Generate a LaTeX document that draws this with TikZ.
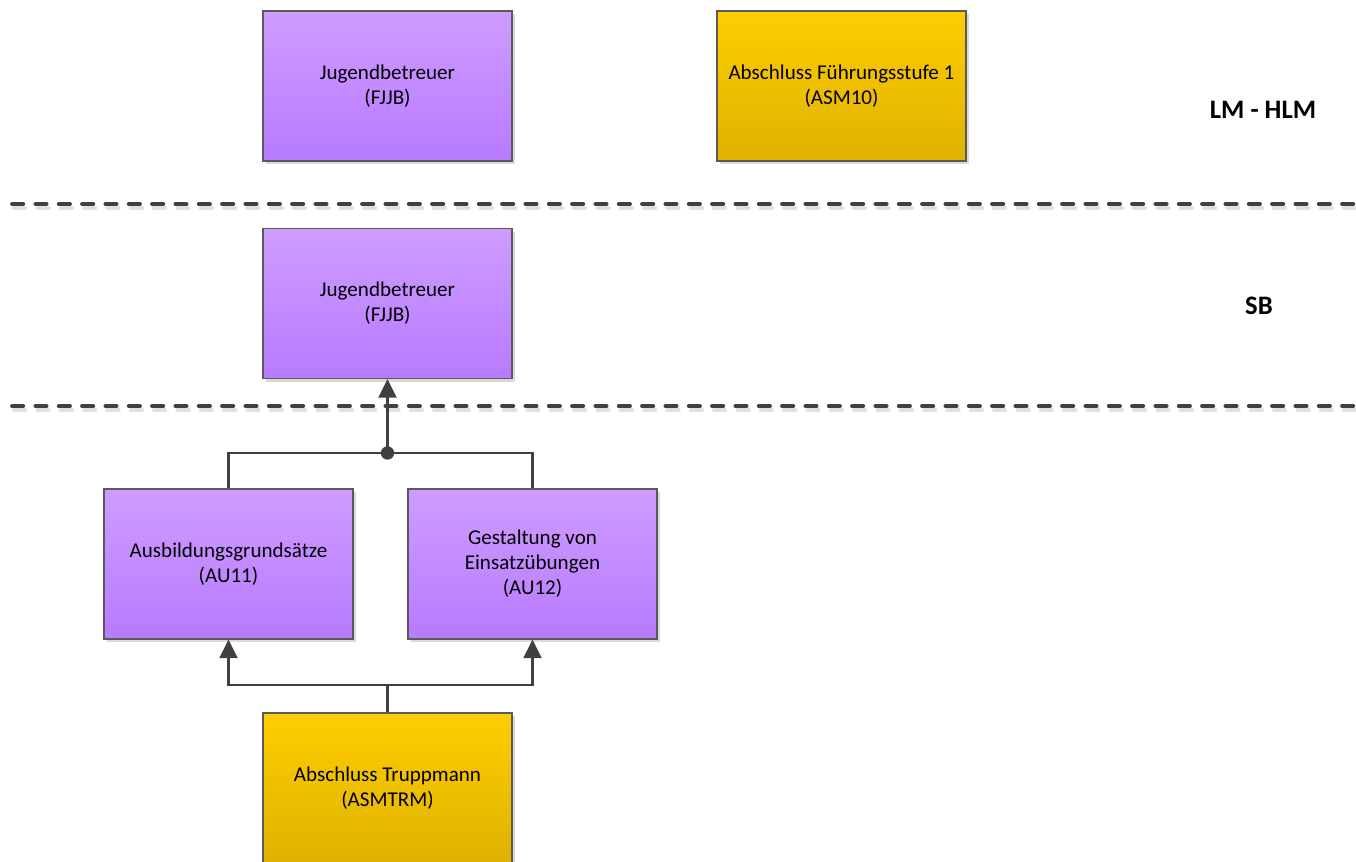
\documentclass[tikz,border=0pt]{standalone}
\usepackage{fontspec}
\setmainfont{Carlito}
\usetikzlibrary{arrows.meta,shadows}
\definecolor{ptop}{RGB}{206,156,255}
\definecolor{pbot}{RGB}{184,122,255}
\definecolor{ytop}{RGB}{255,205,0}
\definecolor{ybot}{RGB}{222,178,0}
\definecolor{edge}{RGB}{90,90,90}
\definecolor{conn}{RGB}{64,64,64}
\tikzset{
  box/.style={draw=edge, line width=0.8pt, minimum width=186.75pt, minimum height=112.5pt,
    inner sep=0pt, align=center, font=\fontsize{15.8}{18.8}\selectfont,
    drop shadow={shadow xshift=2pt, shadow yshift=-2.5pt, opacity=0.25, fill=black!60}},
  purplebox/.style={box, top color=ptop, bottom color=pbot},
  yellowbox/.style={box, top color=ytop, bottom color=ybot},
  level/.style={font=\bfseries\fontsize{20}{24}\selectfont},
  sepline/.style={draw=conn, line width=2.8pt, line cap=round, dash pattern=on 8.5pt off 9pt},
  sepshadow/.style={draw=black, opacity=0.12, line width=3pt, line cap=round, dash pattern=on 8.5pt off 9pt},
  link/.style={draw=conn, line width=1.8pt},
  arr/.style={link, -{Triangle[length=14pt,width=13.5pt]}}
}
\begin{document}
\begin{tikzpicture}[x=0.75pt,y=-0.75pt]
\useasboundingbox (0,0) rectangle (1356,862);
% separators
\coordinate (s1a) at (12,204);
\coordinate (s1b) at (1356,204);
\coordinate (s2a) at (12,406);
\coordinate (s2b) at (1356,406);
\draw[sepshadow] ([xshift=1.5pt,yshift=-3pt]s1a) -- ([xshift=1.5pt,yshift=-3pt]s1b);
\draw[sepshadow] ([xshift=1.5pt,yshift=-3pt]s2a) -- ([xshift=1.5pt,yshift=-3pt]s2b);
\draw[sepline] (s1a) -- (s1b);
\draw[sepline] (s2a) -- (s2b);
% boxes
\node[purplebox] (fjjbA) at (387.5,86) {Jugendbetreuer\\(FJJB)};
\node[yellowbox] (asm10) at (841.5,86) {Abschluss Führungsstufe 1\\(ASM10)};
\node[purplebox] (fjjbB) at (387.5,303.5) {Jugendbetreuer\\(FJJB)};
\node[purplebox] (au11) at (228.5,564) {Ausbildungsgrundsätze\\(AU11)};
\node[purplebox] (au12) at (532.5,564) {Gestaltung von\\Einsatzübungen\\(AU12)};
\node[yellowbox] (asmtrm) at (387.5,788) {Abschluss Truppmann\\(ASMTRM)};
% level labels
\node[level] (lm) at (1263,110) {LM - HLM};
\node[level] (sb) at (1259,306) {SB};
% connectors
\coordinate (J) at (387.5,453);
\coordinate (K) at (387.5,685);
\draw[link] (au11.north) |- (J) -| (au12.north);
\draw[arr] (J) -- (fjjbB.south);
\fill[conn] (J) circle (5pt);
\draw[link] (asmtrm.north) -- (K);
\draw[arr] (K) -| (au11.south);
\draw[arr] (K) -| (au12.south);
\end{tikzpicture}
\end{document}
